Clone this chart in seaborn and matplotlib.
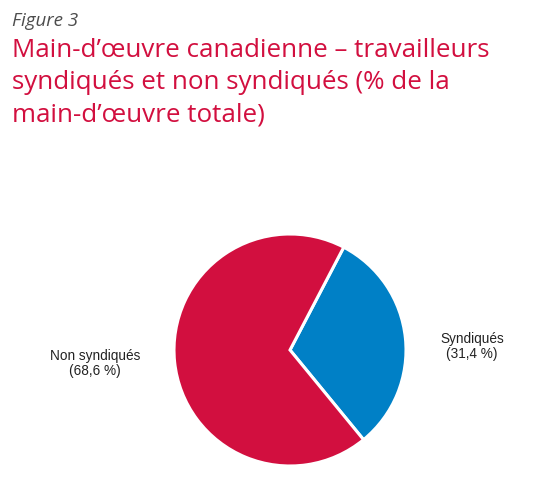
import matplotlib
matplotlib.use('Agg')
import matplotlib.pyplot as plt
import seaborn as sns

# Data
categories = ['Syndiqués', 'Non syndiqués']
shares     = [31.4, 68.6]
share_txt  = ['(31,4 %)', '(68,6 %)']

RED  = '#D20F3F'
BLUE = '#0080C6'

sns.set_theme(style='white')
plt.rcParams['font.family'] = ['Open Sans', 'DejaVu Sans']

fig = plt.figure(figsize=(5.54, 4.8), dpi=100)

# Titles
fig.text(12/554, 1 - 26/480, 'Figure 3', fontsize=13.5, style='italic',
         color='#4d4d4d', va='baseline', ha='left')
title_lines = ['Main-d\u2019œuvre canadienne – travailleurs',
               'syndiqués et non syndiqués (% de la',
               'main-d\u2019œuvre totale)']
for i, line in enumerate(title_lines):
    fig.text(12/554, 1 - (57 + 32*i)/480, line, fontsize=18.75,
             color=RED, va='baseline', ha='left')

# Pie
ax = fig.add_axes([174/554, 14/480, 232/554, 232/480])
ax.pie(shares, colors=[BLUE, RED], startangle=62.4, counterclock=False,
       wedgeprops=dict(edgecolor='white', linewidth=2.2))
ax.set_xlim(-1, 1)
ax.set_ylim(-1, 1)

label_font = dict(fontsize=9.8, family=['Liberation Sans', 'DejaVu Sans'],
                  color='#222222', ha='center', va='center', linespacing=1.1)
ax.text(1.57, 0.03, f'{categories[0]}\n{share_txt[0]}', **label_font)
ax.text(-1.68, -0.116, f'{categories[1]}\n{share_txt[1]}', **label_font)

fig.savefig('out.png', dpi=100)
